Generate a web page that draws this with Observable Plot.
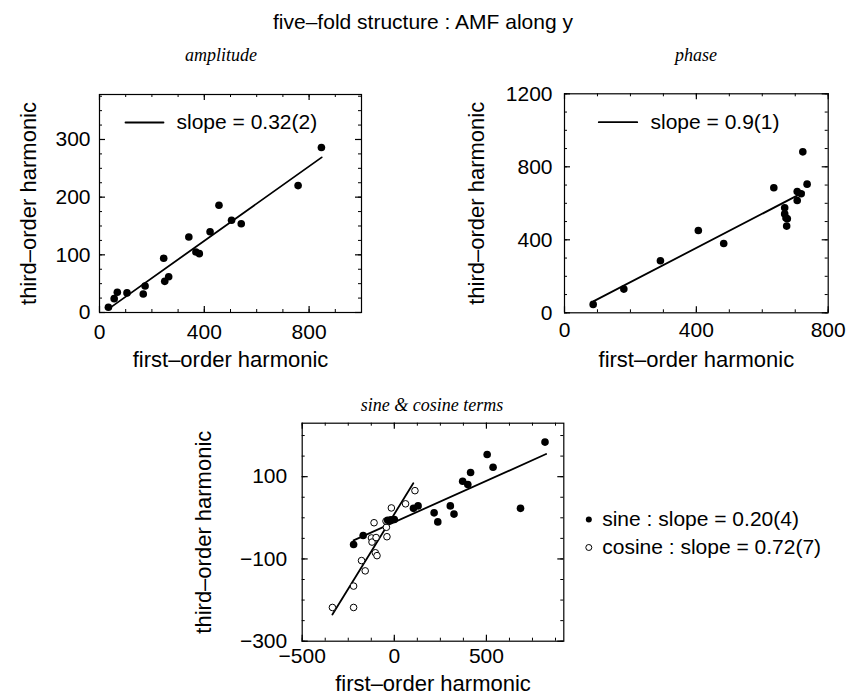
<!DOCTYPE html>
<html>
<head>
<meta charset="utf-8">
<script src="https://cdn.jsdelivr.net/npm/d3@7"></script>
<script src="https://cdn.jsdelivr.net/npm/@observablehq/plot@0.6"></script>
<style>
  body { margin: 0; background: white; }
  #root { position: relative; width: 847px; height: 698px; background: white; font-family: "Liberation Sans", Arial, sans-serif; color: black; }
  .lbl { position: absolute; transform: translate(-50%, -50%); white-space: nowrap; }
  .sub { font-family: "Liberation Serif", "Times New Roman", serif; font-style: italic; font-size: 18px; }
  .panel { position: absolute; }
</style>
</head>
<body>
<div id="root">
  <div class="lbl" style="left:423px;top:22px;font-size:21px;">five–fold structure : AMF along y</div>
  <div class="lbl sub" style="left:221px;top:55px;">amplitude</div>
  <div class="lbl sub" style="left:696px;top:55px;">phase</div>
  <div class="lbl sub" style="left:432px;top:405px;">sine &amp; cosine terms</div>
</div>
<script>
// ---------- data ----------
// amplitude panel
const ampX = [34, 56, 68, 105, 167, 174, 245, 249, 264, 341, 368, 381, 422, 456, 504, 541, 758, 847];
const ampY = [9, 24, 35, 34, 32, 46, 94, 54, 62, 131, 105, 102, 140, 186, 160, 154, 220, 286];
const ampFitX = [40, 848];
const ampFitY = [8, 269];
const ampSlope = "slope = 0.32(2)";

// phase panel
const phaseX = [87, 180, 291, 406, 483, 635, 668, 668, 672, 676, 674, 706, 706, 718, 723, 736];
const phaseY = [46, 130, 285, 451, 380, 685, 575, 542, 519, 515, 475, 615, 665, 652, 882, 705];
const phaseFitX = [89, 726];
const phaseFitY = [64, 661];
const phaseSlope = "slope = 0.9(1)";

// sine & cosine panel
const sineX = [-221, -169, -36, -18, 0, 104, 129, 216, 236, 304, 324, 371, 399, 414, 504, 536, 685, 818];
const sineY = [-65, -43, -6, -5, -4, 23, 29, 12, -10, 29, 9, 89, 81, 110, 154, 123, 23, 184];
const cosX = [-336, -221, -221, -178, -158, -110, -124, -121, -99, -103, -94, -40, -43, -45, -16, 61, 112];
const cosY = [-218, -218, -166, -104, -129, -12, -49, -59, -48, -85, -92, -46, -23, -8, 24, 34, 66];
const sineFitX = [-221, 824];
const sineFitY = [-55, 155];
const cosFitX = [-336, 103];
const cosFitY = [-235, 84];
const sineLegend = "sine : slope = 0.20(4)";
const cosLegend = "cosine : slope = 0.72(7)";

// axis labels and ticks
const xTitle = "first–order harmonic";
const yTitle = "third–order harmonic";
const ampXMajor = [0, 400, 800];
const ampXMinor = d3.range(0, 1001, 100);
const ampYMajor = [0, 100, 200, 300];
const ampYMinor = d3.range(0, 376, 25);
const phaseXMajor = [0, 400, 800];
const phaseXMinor = d3.range(0, 801, 100);
const phaseYMajor = [0, 400, 800, 1200];
const phaseYMinor = d3.range(0, 1201, 100);
const scXMajor = [-500, 0, 500];
const scXMinor = d3.range(-500, 876, 125);
const scYMajor = [-300, -100, 100];
const scYMinor = d3.range(-300, 201, 50);

// ---------- helpers ----------
const FONT = "'Liberation Sans', Arial, sans-serif";
const fmt = d => d < 0 ? "\u2212" + Math.abs(d) : String(d);
const toPts = (xs, ys) => xs.map((x, i) => ({x, y: ys[i]}));
const seg = {draw(ctx, l) { ctx.moveTo(0, 0); ctx.lineTo(0, -l); }};

function panel(cfg) {
  const iw = cfg.width - cfg.ml - cfg.mr;
  const ih = cfg.height - cfg.mt - cfg.mb;
  const marks = [
    Plot.tickX(cfg.xMinor, {x: d => d, insetTop: ih - 3, strokeWidth: 1}),
    Plot.tickX(cfg.xMinor, {x: d => d, insetBottom: ih - 3, strokeWidth: 1}),
    Plot.tickX(cfg.xMajor, {x: d => d, insetTop: ih - 6, strokeWidth: 1.2}),
    Plot.tickX(cfg.xMajor, {x: d => d, insetBottom: ih - 6, strokeWidth: 1.2}),
    Plot.tickY(cfg.yMinor, {y: d => d, insetRight: iw - 3, strokeWidth: 1}),
    Plot.tickY(cfg.yMinor, {y: d => d, insetLeft: iw - 3, strokeWidth: 1}),
    Plot.tickY(cfg.yMajor, {y: d => d, insetRight: iw - 6, strokeWidth: 1.2}),
    Plot.tickY(cfg.yMajor, {y: d => d, insetLeft: iw - 6, strokeWidth: 1.2}),
    Plot.frame({strokeWidth: 1.2}),
    Plot.axisX({ticks: cfg.xMajor, anchor: "bottom", tickSize: 0, tickPadding: cfg.xPad, tickFormat: fmt, fontSize: 21, label: null}),
    Plot.axisY({ticks: cfg.yMajor, anchor: "left", tickSize: 0, tickPadding: cfg.yPad, tickFormat: fmt, fontSize: 21, label: null}),
    Plot.text([xTitle], {frameAnchor: "bottom", dy: cfg.xLabelDy, fontSize: 22, textAnchor: "middle", lineAnchor: "middle"}),
    Plot.text([yTitle], {frameAnchor: "left", dx: cfg.yLabelDx, rotate: -90, fontSize: 22, textAnchor: "middle", lineAnchor: "middle"}),
    ...cfg.extra
  ];
  const svg = Plot.plot({
    width: cfg.width, height: cfg.height,
    marginLeft: cfg.ml, marginRight: cfg.mr, marginTop: cfg.mt, marginBottom: cfg.mb,
    x: {domain: cfg.xDomain},
    y: {domain: cfg.yDomain},
    style: {fontFamily: FONT, background: "transparent", color: "black", overflow: "visible"},
    marks
  });
  const wrap = document.createElement("div");
  wrap.className = "panel";
  wrap.style.left = cfg.left + "px";
  wrap.style.top = cfg.top + "px";
  wrap.appendChild(svg);
  document.getElementById("root").appendChild(wrap);
}

// ---------- amplitude ----------
panel({
  left: 0, top: 60, width: 380, height: 320, ml: 99, mr: 19, mt: 34, mb: 68,
  xDomain: [0, 1000], yDomain: [0, 378],
  xMajor: ampXMajor, xMinor: ampXMinor, yMajor: ampYMajor, yMinor: ampYMinor,
  xPad: 12, yPad: 9, xLabelDy: 47, yLabelDx: -71,
  extra: [
    Plot.line(toPts(ampFitX, ampFitY), {x: "x", y: "y", stroke: "black", strokeWidth: 1.8}),
    Plot.dot(toPts(ampX, ampY), {x: "x", y: "y", r: 3.8, fill: "black", stroke: "none"}),
    Plot.vector([0], {frameAnchor: "top-left", dx: 26, dy: 28, length: 38, rotate: 90, anchor: "start", shape: seg, stroke: "black", strokeWidth: 1.8}),
    Plot.text([ampSlope], {frameAnchor: "top-left", dx: 77, dy: 28, textAnchor: "start", lineAnchor: "middle", fontSize: 21})
  ]
});

// ---------- phase ----------
panel({
  left: 480, top: 60, width: 367, height: 320, ml: 84, mr: 19.3, mt: 33.3, mb: 67.7,
  xDomain: [0, 800], yDomain: [0, 1200],
  xMajor: phaseXMajor, xMinor: phaseXMinor, yMajor: phaseYMajor, yMinor: phaseYMinor,
  xPad: 9, yPad: 12, xLabelDy: 47, yLabelDx: -88,
  extra: [
    Plot.line(toPts(phaseFitX, phaseFitY), {x: "x", y: "y", stroke: "black", strokeWidth: 1.8}),
    Plot.dot(toPts(phaseX, phaseY), {x: "x", y: "y", r: 3.8, fill: "black", stroke: "none"}),
    Plot.vector([0], {frameAnchor: "top-left", dx: 34.3, dy: 28.4, length: 38.4, rotate: 90, anchor: "start", shape: seg, stroke: "black", strokeWidth: 1.8}),
    Plot.text([phaseSlope], {frameAnchor: "top-left", dx: 86, dy: 28.4, textAnchor: "start", lineAnchor: "middle", fontSize: 21})
  ]
});

// ---------- sine & cosine ----------
panel({
  left: 180, top: 400, width: 667, height: 298, ml: 121.7, mr: 283.7, mt: 22.7, mb: 57.3,
  xDomain: [-500, 920], yDomain: [-300, 230],
  xMajor: scXMajor, xMinor: scXMinor, yMajor: scYMajor, yMinor: scYMinor,
  xPad: 7, yPad: 15, xLabelDy: 42.3, yLabelDx: -98.7,
  extra: [
    Plot.line(toPts(sineFitX, sineFitY), {x: "x", y: "y", stroke: "black", strokeWidth: 1.8}),
    Plot.line(toPts(cosFitX, cosFitY), {x: "x", y: "y", stroke: "black", strokeWidth: 1.8}),
    Plot.dot(toPts(cosX, cosY), {x: "x", y: "y", r: 3.3, fill: "white", stroke: "black", strokeWidth: 1}),
    Plot.dot(toPts(sineX, sineY), {x: "x", y: "y", r: 3.8, fill: "black", stroke: "none"}),
    Plot.dot([0], {frameAnchor: "top-right", dx: 25, dy: 96.3, r: 3, fill: "black", stroke: "none"}),
    Plot.text([sineLegend], {frameAnchor: "top-right", dx: 38.4, dy: 96.3, textAnchor: "start", lineAnchor: "middle", fontSize: 21}),
    Plot.dot([0], {frameAnchor: "top-right", dx: 25, dy: 124.3, r: 3, fill: "white", stroke: "black", strokeWidth: 1}),
    Plot.text([cosLegend], {frameAnchor: "top-right", dx: 38.4, dy: 124.3, textAnchor: "start", lineAnchor: "middle", fontSize: 21})
  ]
});
</script>
</body>
</html>
